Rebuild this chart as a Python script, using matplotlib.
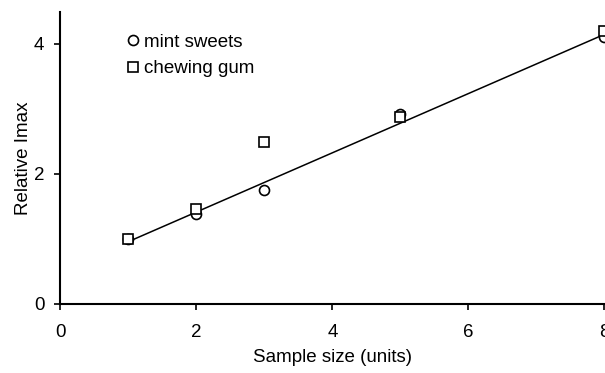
import numpy as np
import matplotlib.pyplot as plt

plt.rcParams['font.family'] = ['Liberation Sans', 'DejaVu Sans']

sizes = [1, 2, 3, 5, 8]
mint = [1.0, 1.38, 1.75, 2.92, 4.1]
gum = [1.0, 1.45, 2.49, 2.88, 4.2]

fig = plt.figure(figsize=(6.05, 3.73), dpi=100)
ax = fig.add_axes([0.0997, 0.186, 0.9003, 0.782])

# regression line through the mint sweets points
k, b = np.polyfit(sizes, mint, 1)
xs = np.array([sizes[0], sizes[-1]])
ax.plot(xs, k * xs + b, color='black', lw=1.1, zorder=2)

ax.plot(sizes, mint, 'o', ms=7.2, mfc='white', mec='black', mew=1.2,
        ls='none', label='mint sweets', zorder=3)
ax.plot(sizes, gum, 's', ms=7, mfc='white', mec='black', mew=1.2,
        ls='none', label='chewing gum', zorder=3)

ax.set_xlim(0, 8.01)
ax.set_ylim(0, 4.49)
ax.set_xticks([0, 2, 4, 6, 8])
ax.set_yticks([0, 2, 4])
for s in ['top', 'right']:
    ax.spines[s].set_visible(False)
for s in ['left', 'bottom']:
    ax.spines[s].set_linewidth(1.5)
ax.tick_params(axis='x', length=4.5, width=1.2, pad=10, labelsize=13.5)
ax.tick_params(axis='y', length=4.5, width=1.2, pad=7, labelsize=13.5)

ax.set_xlabel('Sample size (units)', fontsize=13.5, labelpad=6)
ax.set_ylabel('Relative Imax', fontsize=13.5, labelpad=1.5)

ax.legend(loc='upper left', bbox_to_anchor=(0.1, 0.97), frameon=False,
          fontsize=13.5, handlelength=0.5, handletextpad=0.35,
          labelspacing=0.5, borderaxespad=0.3)

fig.savefig('out.png', dpi=100)
